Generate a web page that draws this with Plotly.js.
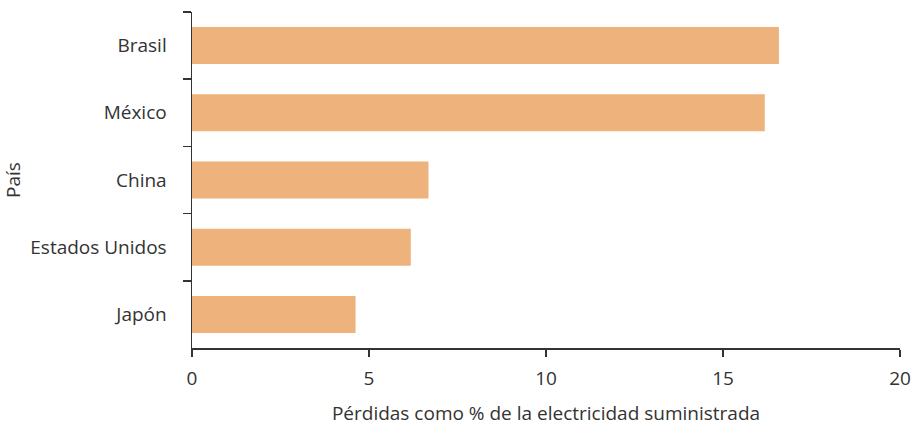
<!DOCTYPE html>
<html><head><meta charset="utf-8">
<script src="https://cdn.plot.ly/plotly-3.0.1.min.js"></script>
<style>html,body{margin:0;padding:0;background:#fff}</style>
</head><body>
<div id="chart" style="width:915px;height:426px"></div>
<script>
const paises = ["Brasil", "México", "China", "Estados Unidos", "Japón"];
const perdidas = [16.58, 16.18, 6.68, 6.18, 4.62];
const xTicks = [0, 5, 10, 15, 20];
const xTitle = "Pérdidas como % de la electricidad suministrada";
const yTitle = "País";

const fontFam = '"Open Sans", "Noto Sans", sans-serif';
const trace = {
  type: "bar", orientation: "h",
  x: perdidas, y: paises,
  marker: {color: "#EEB27C", line: {width: 0}},
  width: 0.55,
  hoverinfo: "x+y"
};
const layout = {
  width: 915, height: 426,
  margin: {l: 192, r: 15, t: 12, b: 78},
  paper_bgcolor: "#fff", plot_bgcolor: "#fff",
  font: {family: fontFam, size: 19, color: "#333"},
  showlegend: false,
  xaxis: {
    range: [0, 20], tickvals: xTicks, ticktext: xTicks.map(String),
    showgrid: false, zeroline: false,
    showline: true, linecolor: "#333", linewidth: 1.5,
    ticks: "outside", ticklen: 7, tickwidth: 1.5, tickcolor: "#333",
    ticklabelstandoff: 6,
    title: {text: xTitle, font: {size: 19, color: "#333"}, standoff: 19}
  },
  yaxis: {
    type: "category", autorange: "reversed",
    tickson: "boundaries",
    showgrid: false, zeroline: false,
    showline: true, linecolor: "#333", linewidth: 1.5,
    ticks: "outside", ticklen: 8, tickwidth: 1.5, tickcolor: "#333",
    ticklabelstandoff: 20,
    title: {text: yTitle, font: {size: 19, color: "#333"}, standoff: 12}
  }
};
Plotly.newPlot("chart", [trace], layout, {displayModeBar: false, staticPlot: true});
</script>
</body></html>
